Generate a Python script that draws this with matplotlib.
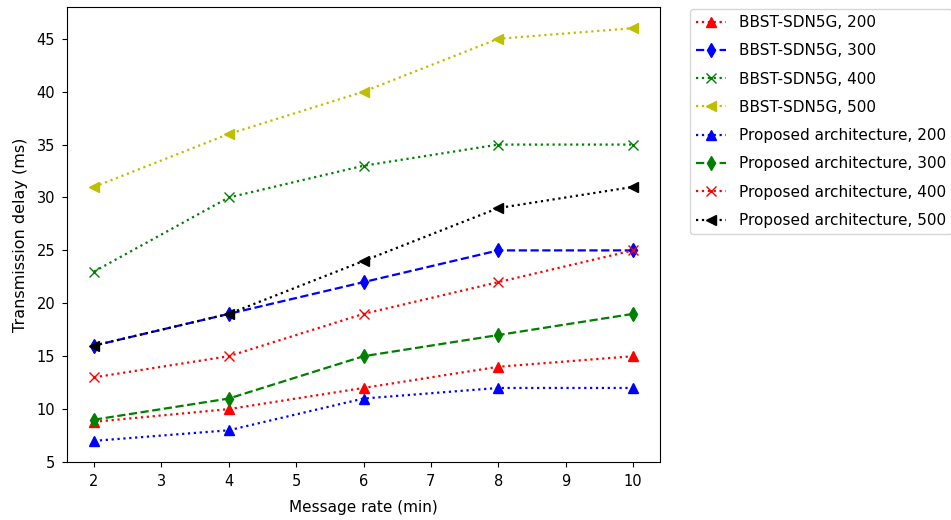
import matplotlib
matplotlib.use("Agg")
import matplotlib.pyplot as plt

rates = [2, 4, 6, 8, 10]

bbst_200 = [8.8, 10, 12, 14, 15]
bbst_300 = [16, 19, 22, 25, 25]
bbst_400 = [23, 30, 33, 35, 35]
bbst_500 = [31, 36, 40, 45, 46]
prop_200 = [7, 8, 11, 12, 12]
prop_300 = [9, 11, 15, 17, 19]
prop_400 = [13, 15, 19, 22, 25]
prop_500 = [16, 19, 24, 29, 31]

series = [
    ("BBST-SDN5G, 200", bbst_200, "r", "^", ":"),
    ("BBST-SDN5G, 300", bbst_300, "b", "d", "--"),
    ("BBST-SDN5G, 400", bbst_400, "g", "x", ":"),
    ("BBST-SDN5G, 500", bbst_500, "y", "<", ":"),
    ("Proposed architecture, 200", prop_200, "b", "^", ":"),
    ("Proposed architecture, 300", prop_300, "g", "d", "--"),
    ("Proposed architecture, 400", prop_400, "r", "x", ":"),
    ("Proposed architecture, 500", prop_500, "k", "<", ":"),
]

fig = plt.figure(figsize=(9.51, 5.2), dpi=100)
ax = fig.add_axes([0.0705, 0.1115, 0.6235, 0.875])

for label, vals, color, marker, ls in series:
    ax.plot(rates, vals, color=color, marker=marker, linestyle=ls,
            markersize=7.5, linewidth=1.6, label=label)

ax.set_ylim(5, 48)
ax.set_xlabel("Message rate (min)", fontsize=11, labelpad=8)
ax.set_ylabel("Transmission delay (ms)", fontsize=11.5, labelpad=6)
ax.tick_params(labelsize=10.5, pad=5)
ax.legend(loc="upper left", bbox_to_anchor=(1.05, 0.996), borderaxespad=0,
          fontsize=11, labelspacing=0.87, handlelength=2.0)

fig.savefig("out.png", dpi=100)
